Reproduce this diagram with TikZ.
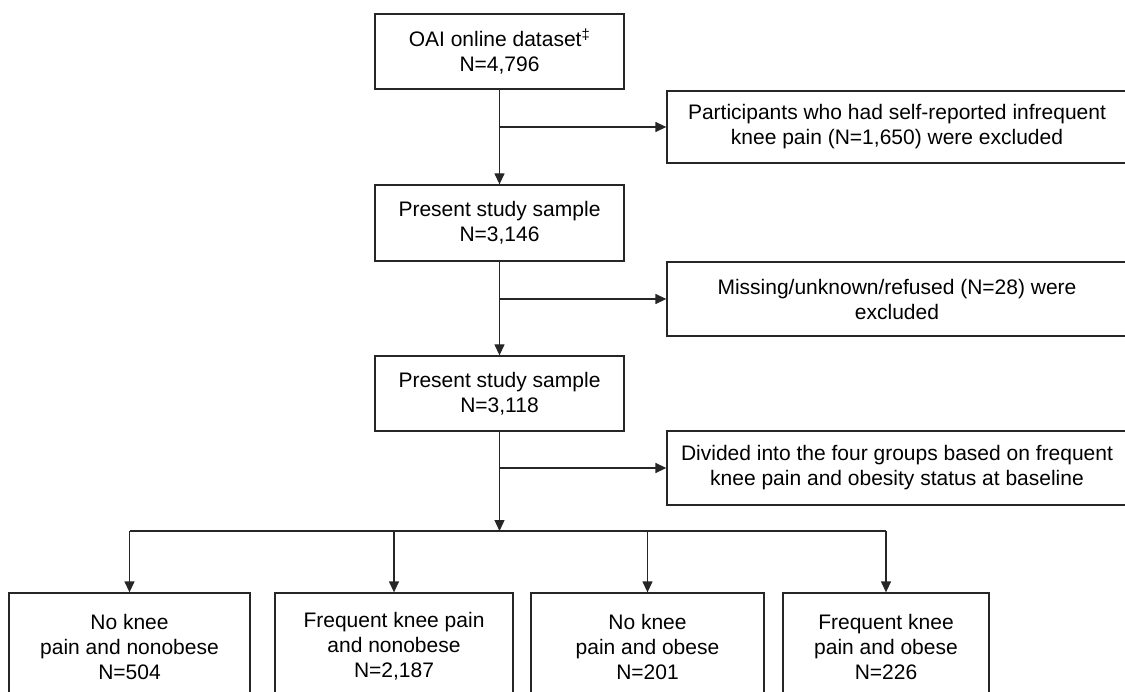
\documentclass[tikz,border=0pt]{standalone}
\usepackage{fontspec}
\setmainfont{Liberation Sans}
\usetikzlibrary{arrows.meta,calc}
\tikzset{
	box/.style={draw=black!85, line width=1.3pt, align=center, inner sep=0pt,
		font=\fontsize{21}{25}\selectfont},
	arr/.style={draw=black!85, line width=1.3pt, -{Triangle[length=11pt,width=10pt]}},
	ln/.style={draw=black!85, line width=1.3pt}
}
\begin{document}
\begin{tikzpicture}[x=1pt, y=-1pt]
		%%Start of figure. Flow chart
			\useasboundingbox (0, 0) rectangle (1125, 692);
			
			\node[box, minimum width=249pt, minimum height=75pt](oai) at (499.5, 51.5){OAI online dataset\textsuperscript{‡}\\N=4,796};
			\node[box, minimum width=460pt, minimum height=72pt](excl1) at (897, 127){Participants who had self-reported infrequent\\knee pain (N=1,650) were excluded};
			\node[box, minimum width=249pt, minimum height=76pt](s1) at (499.5, 223){Present study sample\\N=3,146};
			\node[box, minimum width=460pt, minimum height=74pt](excl2) at (897, 299){Missing/unknown/refused (N=28) were\\excluded};
			\node[box, minimum width=249pt, minimum height=75pt](s2) at (499.5, 393.5){Present study sample\\N=3,118};
			\node[box, minimum width=460pt, minimum height=74pt](div) at (897, 468){Divided into the four groups based on frequent\\knee pain and obesity status at baseline};
			
			%groups%
			\node[box, minimum width=241pt, minimum height=107pt](g1) at (129.5, 646.5){No knee\\pain and nonobese\\N=504};
			\node[box, minimum width=238pt, minimum height=107pt](g2) at (394, 646.5){Frequent knee pain\\and nonobese\\N=2,187};
			\node[box, minimum width=233pt, minimum height=107pt](g3) at (647.5, 646.5){No knee\\pain and obese\\N=201};
			\node[box, minimum width=206pt, minimum height=107pt](g4) at (886, 646.5){Frequent knee\\pain and obese\\N=226};
			\coordinate (split) at (499.5, 531);
			
			%arrows%
			\draw[arr](oai) to (s1);
			\draw[arr](oai.south |- excl1) to (excl1);
			\draw[arr](s1) to (s2);
			\draw[arr](s1.south |- excl2) to (excl2);
			\draw[arr](s2) to (split);
			\draw[arr](s2.south |- div) to (div);
			
			\draw[ln](g1.north |- split) to (g4.north |- split);
			\draw[arr](g1.north |- split) to (g1);
			\draw[arr](g2.north |- split) to (g2);
			\draw[arr](g3.north |- split) to (g3);
			\draw[arr](g4.north |- split) to (g4);
		\end{tikzpicture}
\end{document}
